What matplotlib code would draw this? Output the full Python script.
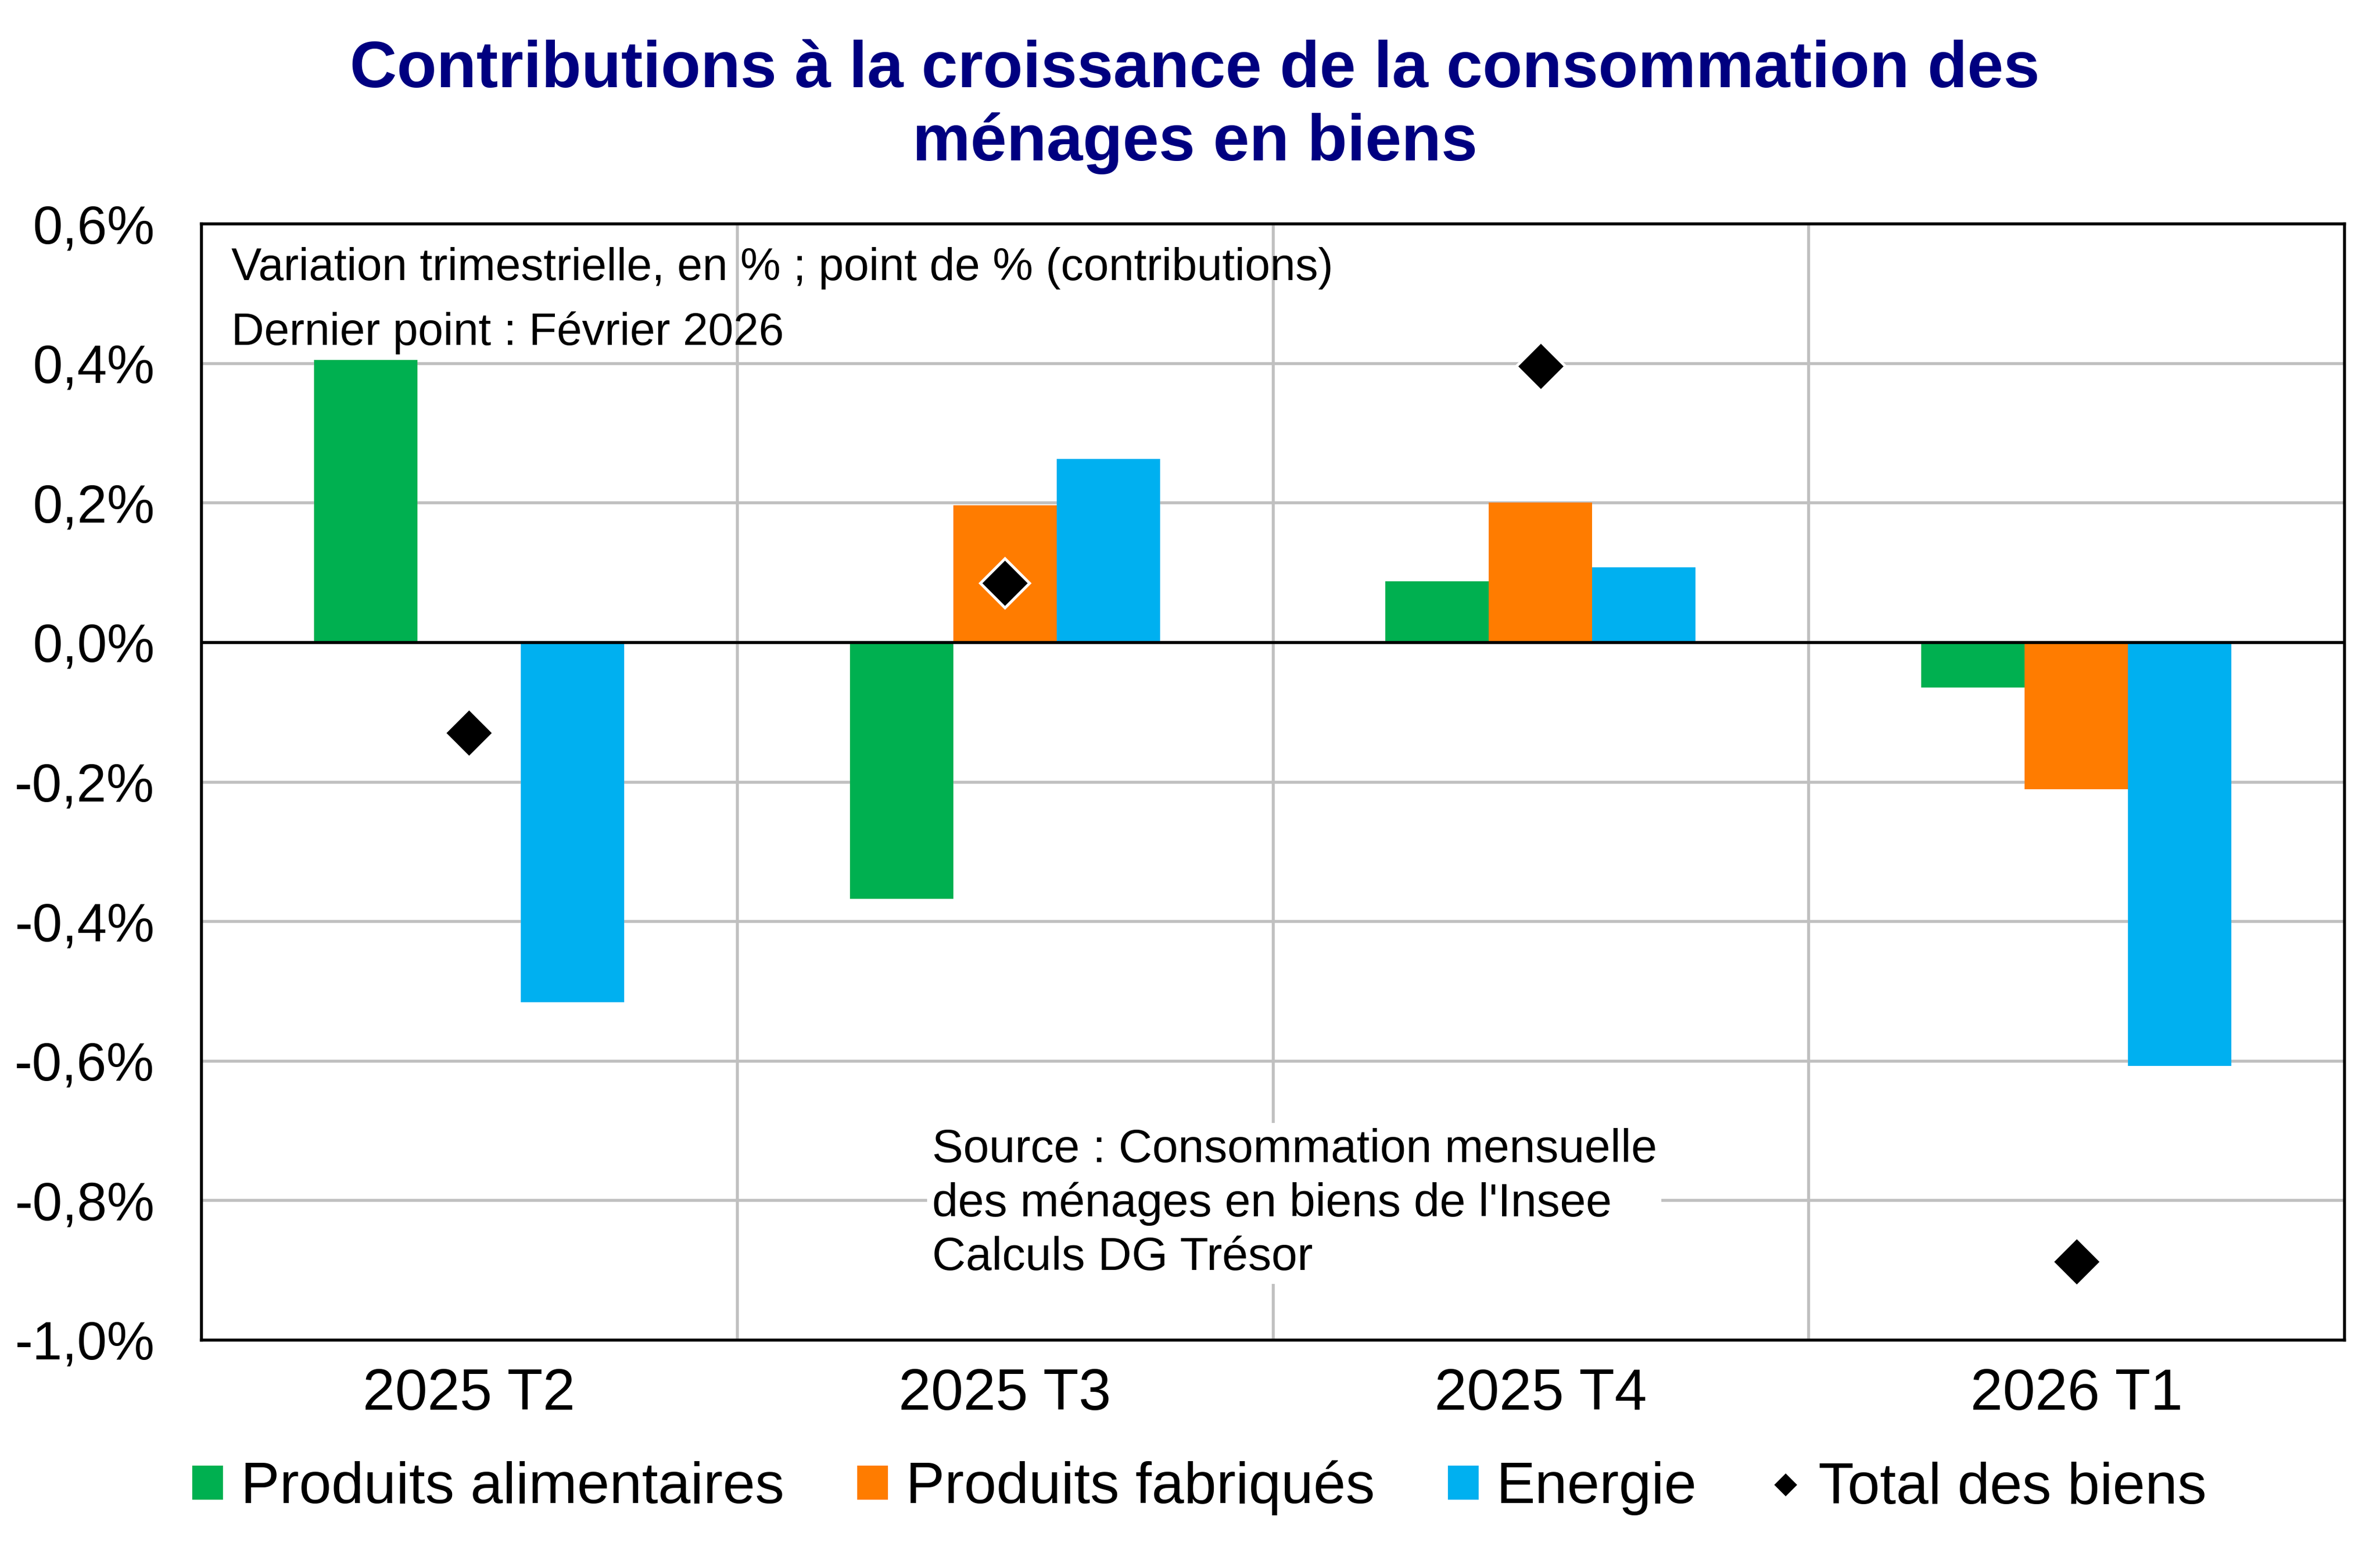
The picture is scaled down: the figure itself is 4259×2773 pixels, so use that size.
import matplotlib.pyplot as plt
import numpy as np

plt.rcParams['font.family'] = ['Liberation Sans', 'DejaVu Sans']

# données (contributions, en point de %)
trimestres = ['2025 T2', '2025 T3', '2025 T4', '2026 T1']
alimentaires = [0.405, -0.368, 0.087, -0.065]
fabriques = [0.0, 0.196, 0.200, -0.211]
energie = [-0.516, 0.263, 0.107, -0.607]
total = [-0.13, 0.085, 0.396, -0.888]
yticks = [0.6, 0.4, 0.2, 0.0, -0.2, -0.4, -0.6, -0.8, -1.0]

fig = plt.figure(figsize=(4259 / 300, 2773 / 300), dpi=300)
ax = fig.add_axes([0.0845, 0.1356, 0.9005, 0.7201])

x = np.arange(len(trimestres))
w = 0.193
b1 = ax.bar(x - w, alimentaires, width=w, color='#00b050', label='Produits alimentaires', zorder=3)
b2 = ax.bar(x, fabriques, width=w, color='#ff7c00', label='Produits fabriqués', zorder=3)
b3 = ax.bar(x + w, energie, width=w, color='#00b0f0', label='Energie', zorder=3)
l1, = ax.plot(x, total, linestyle='none', marker='D', markersize=15, color='black',
              markeredgecolor='white', markeredgewidth=1.2, label='Total des biens', zorder=5)

ax.axhline(0, color='black', linewidth=1.3, zorder=4)
ax.set_xlim(-0.5, 3.5)
ax.set_ylim(-1.0, 0.6)
ax.set_yticks(yticks)
ax.set_yticklabels([('%.1f%%' % v).replace('.', ',') for v in yticks], fontsize=23)
ax.set_xticks(x)
ax.set_xticklabels(trimestres, fontsize=25)
ax.set_xticks([0.5, 1.5, 2.5], minor=True)
ax.tick_params(axis='both', which='both', length=0)
ax.tick_params(axis='y', pad=20)
ax.tick_params(axis='x', pad=12)
ax.grid(axis='y', color='#c0c0c0', linewidth=1.3, zorder=0)
ax.grid(axis='x', which='minor', color='#c0c0c0', linewidth=1.3, zorder=0)
for s in ax.spines.values():
    s.set_linewidth(1.3)
    s.set_color('black')

fig.text(0.502, 0.931, 'Contributions à la croissance de la consommation des\nménages en biens',
         ha='center', va='center', fontsize=28, fontweight='bold', color='#000080',
         linespacing=1.25)

ax.text(0.014, 0.96, 'Variation trimestrielle, en % ; point de % (contributions)',
        transform=ax.transAxes, fontsize=19.5, va='center')
ax.text(0.014, 0.902, 'Dernier point : Février 2026',
        transform=ax.transAxes, fontsize=19.5, va='center')
ax.text(0.341, 0.19, "Source : Consommation mensuelle\ndes ménages en biens de l'Insee\nCalculs DG Trésor",
        transform=ax.transAxes, fontsize=20, va='top', linespacing=1.3, zorder=6,
        bbox=dict(facecolor='white', edgecolor='none', pad=2))

fig.legend(handles=[b1, b2, b3, l1], loc='center', bbox_to_anchor=(0.504, 0.040), ncol=4,
           frameon=False, fontsize=25, handlelength=0.53, handleheight=0.53,
           handletextpad=0.3, columnspacing=1.26, markerscale=0.55)

plt.savefig('out.png', dpi=300)
